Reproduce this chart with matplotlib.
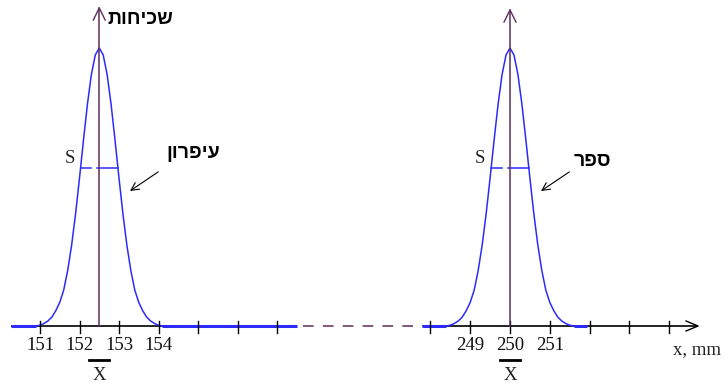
import matplotlib
matplotlib.use("Agg")
import matplotlib.pyplot as plt

# ---------------- data ----------------
# distribution 1 (pencil), distribution 2 (book)
label_freq = "שכיחות"
label_pencil = "עיפרון"
label_book = "ספר"
axis_label = "x, mm"

left_ticks = [151, 152, 153, 154, 155, 156, 157]
left_ticklabels = ["151", "152", "153", "154", "", "", ""]
right_ticks = [248, 249, 250, 251, 252, 253, 254]
right_ticklabels = ["", "249", "250", "251", "", "", ""]

mean_pencil = 152.5
mean_book = 250.0
s_halfwidth = 0.47     # half-width of the S bar (mm)
s_level = 0.57         # height of the S bar (relative)

# curve shape: offset from mean (mm) and relative height
offsets = [-1.6, -1.5, -1.4, -1.3, -1.2, -1.1, -1.0, -0.9, -0.8, -0.7, -0.6, -0.5,
           -0.4, -0.3, -0.2, -0.1, 0.0, 0.1, 0.2, 0.3, 0.4, 0.5, 0.6, 0.7, 0.8,
           0.9, 1.0, 1.1, 1.2, 1.3, 1.4, 1.5, 1.6]
heights = [0.0, 0.003, 0.009, 0.018, 0.032, 0.055, 0.085, 0.129, 0.199, 0.290,
           0.403, 0.532, 0.668, 0.797, 0.904, 0.975, 1.0, 0.975, 0.904, 0.797,
           0.668, 0.532, 0.403, 0.290, 0.199, 0.129, 0.085, 0.055, 0.032, 0.018,
           0.009, 0.003, 0.0]

# ---------------- figure ----------------
W, H = 724, 383
fig = plt.figure(figsize=(W / 100, H / 100), dpi=100)

BLUE = "#2b2bff"
PURPLE = "#5e2d5e"
SERIF = "Liberation Serif"
HEB = ["Liberation Sans", "DejaVu Sans"]

# y mapping: baseline at pixel 326, peak (1.0) at pixel 48
y_top = 326 / 278
y_bot = -(H - 326) / 278

# left axes covers pixel x 0..300 ; 151 -> px 40, 39.5 px per mm
pxmm = 39.5
axL = fig.add_axes([0, 0, 300 / W, 1])
axL.set_xlim(151 - 40 / pxmm, 151 + 260 / pxmm)
axL.set_ylim(y_bot, y_top)
axL.axis("off")

# right axes covers pixel x 400..724 ; 250 -> px 510
pxmm2 = 39.8
axR = fig.add_axes([400 / W, 0, 324 / W, 1])
axR.set_xlim(250 - 110 / pxmm2, 250 + 214 / pxmm2)
axR.set_ylim(y_bot, y_top)
axR.axis("off")

px_y = 1 / 278  # one pixel in y-data units


def draw_panel(ax, mean, ticks, ticklabels, xstart, xend, blue_start, blue_end,
               top, name=None, name_xy=None, arrow_from=None,
               arrow_to=None, top_label=None, s_gap=(-0.2, -0.05)):
    # horizontal axis (black)
    ax.plot([xstart, xend], [0, 0], color="black", lw=1.2, solid_capstyle="butt",
            clip_on=False, zorder=2)
    # blue baseline of the curve
    ax.plot([blue_start, mean + offsets[0]], [0, 0], color=BLUE, lw=2.2, zorder=3,
            solid_capstyle="butt", clip_on=False)
    ax.plot([mean + offsets[-1], blue_end], [0, 0], color=BLUE, lw=2.2, zorder=3,
            solid_capstyle="butt", clip_on=False)
    # ticks
    for t, lab in zip(ticks, ticklabels):
        ax.plot([t, t], [-7 * px_y, 5 * px_y], color="black", lw=1.0, zorder=4)
        if lab:
            ax.text(t, -19 * px_y, lab, ha="center", va="center",
                    fontsize=13.5, family=SERIF, color="#111111")
    # curve
    xs = [mean + o for o in offsets]
    ax.plot(xs, heights, color=BLUE, lw=1.1, zorder=3)
    # vertical axis with open arrow
    ax.plot([mean, mean], [0, top], color=PURPLE, lw=1.1, zorder=4)
    ax.plot([mean - 0.15, mean, mean + 0.15], [top - 12 * px_y, top, top - 12 * px_y],
            color=PURPLE, lw=1.0, zorder=4)
    # S bar
    ax.plot([mean - s_halfwidth, mean + s_gap[0]], [s_level, s_level], color=BLUE,
            lw=1.1, zorder=3)
    ax.plot([mean + s_gap[1], mean + s_halfwidth], [s_level, s_level], color=BLUE,
            lw=1.1, zorder=3)
    ax.text(mean - 0.75, s_level + 9 * px_y, "S", ha="center", va="center",
            fontsize=13.5, family=SERIF, color="#222222")
    # X-bar label
    ax.plot([mean - 0.25, mean + 0.25], [-34 * px_y, -34 * px_y], color="black", lw=2.0)
    ax.text(mean, -50 * px_y, "X", ha="center", va="center", fontsize=13.5,
            family=SERIF, color="#222222")
    # name of object with arrow
    ax.text(name_xy[0], name_xy[1], name[::-1], ha="center", va="center",
            fontsize=14, fontweight="bold", family=HEB)
    ax.annotate("", xy=arrow_to, xytext=arrow_from,
                arrowprops=dict(arrowstyle="->", color="black", lw=0.8,
                                mutation_scale=14))
    if top_label:
        ax.text(mean + 0.2, y_top - 20 * px_y, top_label[::-1], ha="left",
                va="center", fontsize=14, fontweight="bold", family=HEB)


# left panel (pencil)
draw_panel(axL, mean_pencil, left_ticks, left_ticklabels,
           151 - 29 / pxmm, 151 + 257 / pxmm, 151 - 29 / pxmm, 151 + 257 / pxmm,
           top=318 / 278,
           name=label_pencil, name_xy=(mean_pencil + 2.38, 0.62),
           arrow_from=(mean_pencil + 1.55, 0.56),
           arrow_to=(mean_pencil + 0.72, 0.48),
           top_label=label_freq)

# dashed connector between the two panels
axL.plot([151 + 263 / pxmm, 151 + 392 / pxmm], [0, 0], color=PURPLE, lw=1.1,
         dashes=(7, 6), clip_on=False)

# right panel (book)
draw_panel(axR, mean_book, right_ticks, right_ticklabels,
           250 - 87 / pxmm2, 250 + 188 / pxmm2, 250 - 88 / pxmm2, 250 + 77 / pxmm2,
           top=316 / 278,
           name=label_book, name_xy=(mean_book + 2.08, 0.59),
           arrow_from=(mean_book + 1.55, 0.56),
           arrow_to=(mean_book + 0.72, 0.48))
# arrow at end of x axis
xe = 250 + 188 / pxmm2
axR.plot([xe - 0.3, xe, xe - 0.3], [5 * px_y, 0, -5 * px_y], color="black", lw=1.0,
         clip_on=False)
axR.text(250 + 187 / pxmm2, -24 * px_y, axis_label, ha="center", va="center",
         fontsize=13.5, family=SERIF, color="#222222")

fig.savefig("out.png", dpi=100)
